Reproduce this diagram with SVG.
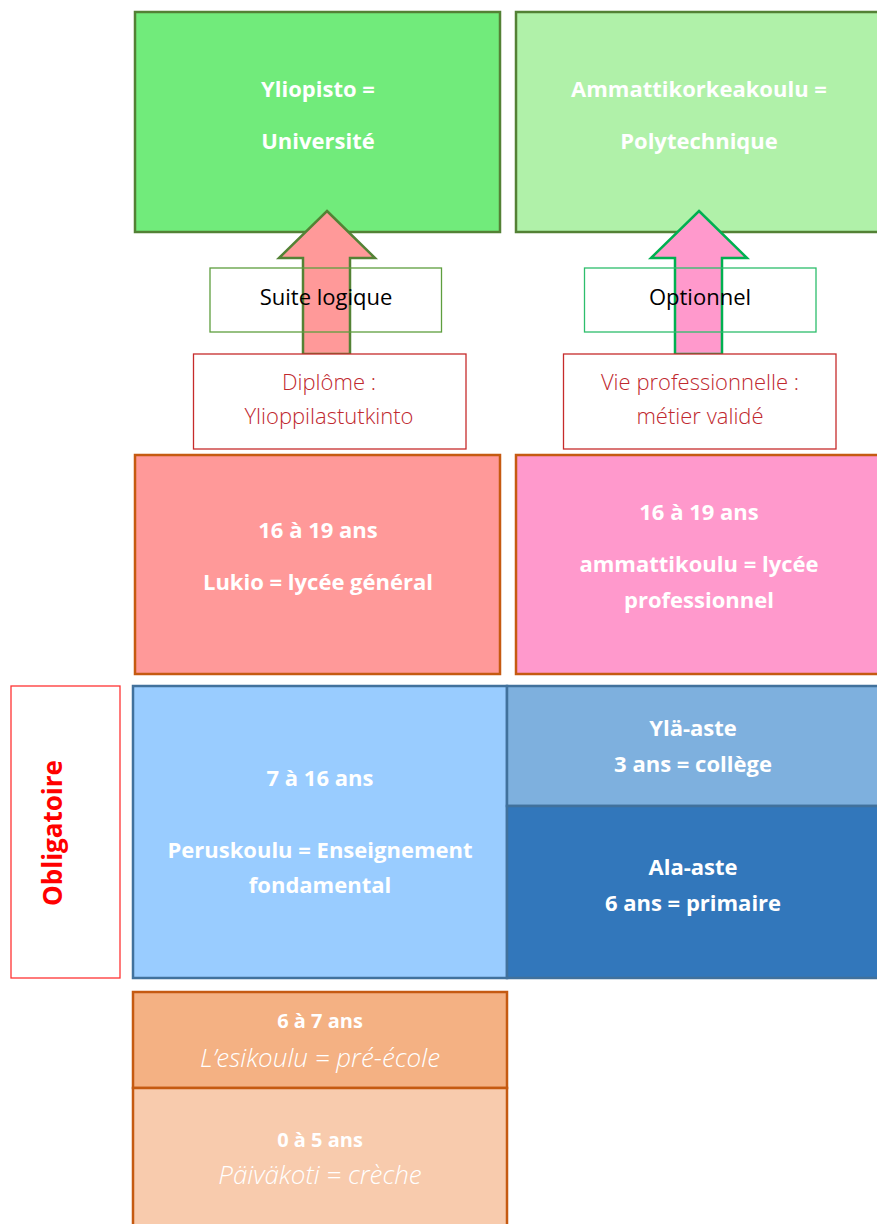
<svg xmlns="http://www.w3.org/2000/svg" width="877" height="1224" viewBox="0 0 877 1224">
<style>
.b{font-family:"Open Sans","Noto Sans",sans-serif;font-weight:700;fill:#fff;text-anchor:middle;font-size:22px}
.s{font-size:20px}
.it{font-family:"Open Sans","Noto Sans",sans-serif;font-weight:300;font-style:italic;fill:#fff;text-anchor:middle;font-size:26px}
.lbl{font-family:"Open Sans","Noto Sans",sans-serif;font-weight:400;fill:#000;text-anchor:middle;font-size:22px}
.red{font-family:"Open Sans","Noto Sans",sans-serif;font-weight:300;fill:#C0282E;text-anchor:middle;font-size:22px}
.rbox{fill:#fff;stroke:#C62B2B;stroke-width:1.3}
.org{stroke:#C55A11;stroke-width:2.5}
.blu{stroke:#41719C;stroke-width:2.5}
.grn{stroke:#538135;stroke-width:2.5}
</style>
<rect width="877" height="1224" fill="#fff"/>
<g id="universite">
<rect x="135" y="12" width="365" height="220" fill="#71EB7B" class="grn"/>
<text class="b" x="318" y="97">Yliopisto =</text>
<text class="b" x="318" y="149">Université</text>
</g>
<g id="polytechnique">
<rect x="516" y="12" width="400" height="220" fill="#B0F1A9" class="grn"/>
<text class="b" x="699" y="97">Ammattikorkeakoulu =</text>
<text class="b" x="699" y="149">Polytechnique</text>
</g>
<g id="connectors">
<path d="M327 211 L375 258 L350 258 L350 354 L303 354 L303 258 L279 258 Z" fill="#FF9999" stroke="#548235" stroke-width="2.5" stroke-linejoin="miter"/>
<path d="M699 211 L747 258 L722 258 L722 354 L675 354 L675 258 L651 258 Z" fill="#FF99CC" stroke="#00B050" stroke-width="2.5" stroke-linejoin="miter"/>
</g>
<g id="suite-logique">
<rect x="210" y="268" width="231.5" height="64" fill="none" stroke="#5E9E3E" stroke-width="1.3"/>
<text class="lbl" x="326" y="305">Suite logique</text>
</g>
<g id="optionnel">
<rect x="584.5" y="268" width="231.5" height="64" fill="none" stroke="#2DBE6C" stroke-width="1.3"/>
<text class="lbl" x="700" y="305">Optionnel</text>
</g>
<g id="diplome">
<rect x="193.5" y="354" width="272.5" height="95" class="rbox"/>
<text class="red" x="329" y="390">Diplôme :</text>
<text class="red" x="329" y="424">Ylioppilastutkinto</text>
</g>
<g id="vie-pro">
<rect x="563.5" y="354" width="272.5" height="95" class="rbox"/>
<text class="red" x="700" y="390">Vie professionnelle :</text>
<text class="red" x="700" y="424">métier validé</text>
</g>
<g id="lukio">
<rect x="135" y="455" width="365" height="219" fill="#FF9999" class="org"/>
<text class="b" x="318" y="538">16 à 19 ans</text>
<text class="b" x="318" y="590">Lukio = lycée général</text>
</g>
<g id="ammattikoulu">
<rect x="516" y="455" width="400" height="219" fill="#FF99CC" class="org"/>
<text class="b" x="699" y="520">16 à 19 ans</text>
<text class="b" x="699" y="572">ammattikoulu = lycée</text>
<text class="b" x="699" y="608">professionnel</text>
</g>
<g id="obligatoire">
<rect x="11" y="686" width="109" height="292" fill="#fff" stroke="#FF3333" stroke-width="1.3"/>
<text x="62" y="833" transform="rotate(-90 62 833)" style="font-family:'Open Sans','Noto Sans',sans-serif;font-weight:700;font-size:26px;fill:#FF0000;text-anchor:middle">Obligatoire</text>
</g>
<g id="peruskoulu">
<rect x="133" y="686" width="374" height="292" fill="#99CCFF" class="blu"/>
<text class="b" x="320" y="786">7 à 16 ans</text>
<text class="b" x="320" y="858">Peruskoulu = Enseignement</text>
<text class="b" x="320" y="893">fondamental</text>
</g>
<g id="yla-aste">
<rect x="507" y="686" width="400" height="120" fill="#7EB0DE" class="blu"/>
<text class="b" x="693" y="736">Ylä-aste</text>
<text class="b" x="693" y="772">3 ans = collège</text>
</g>
<g id="ala-aste">
<rect x="507" y="806" width="400" height="172" fill="#3277BB" class="blu"/>
<text class="b" x="693" y="875">Ala-aste</text>
<text class="b" x="693" y="911">6 ans = primaire</text>
</g>
<g id="esikoulu">
<rect x="133" y="992" width="374" height="96" fill="#F4B183" class="org"/>
<text class="b s" x="320" y="1028">6 à 7 ans</text>
<text class="it" x="320" y="1067">L’esikoulu = pré-école</text>
</g>
<g id="paivakoti">
<rect x="133" y="1088" width="374" height="160" fill="#F8CBAD" class="org"/>
<text class="b s" x="320" y="1147">0 à 5 ans</text>
<text class="it" x="320" y="1184">Päiväkoti = crèche</text>
</g>
</svg>
